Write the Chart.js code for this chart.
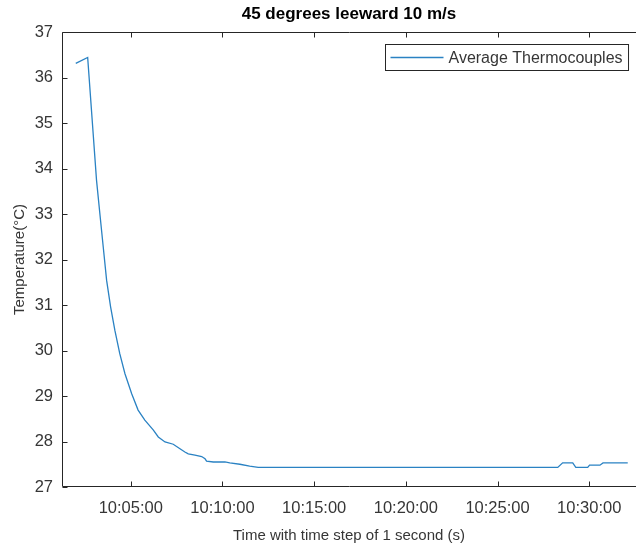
<!DOCTYPE html>
<html>
<head>
<meta charset="utf-8">
<script src="https://cdn.jsdelivr.net/npm/chart.js@4"></script>
<style>
  html, body { margin: 0; padding: 0; background: #fff; }
  #wrap { width: 636px; height: 545px; }
</style>
</head>
<body>
<div id="wrap"><canvas id="c" width="636" height="545"></canvas></div>
<script>
// ---- data ----
const chartTitle = '45 degrees leeward 10 m/s';
const seriesLabel = 'Average Thermocouples';
const xAxisTitle = 'Time with time step of 1 second (s)';
const yAxisTitle = 'Temperature(\u00B0C)';

const times = [
  '10:02:00','10:02:39','10:03:08','10:03:19','10:03:30','10:03:41','10:03:54',
  '10:04:08','10:04:24','10:04:41','10:05:03','10:05:24','10:05:46','10:06:14',
  '10:06:30','10:06:52','10:07:19','10:07:41','10:07:57','10:08:08','10:08:30',
  '10:08:52','10:09:03','10:09:08','10:09:30','10:10:08','10:10:24','10:10:57',
  '10:11:29','10:11:57','10:28:17','10:28:33','10:29:06','10:29:16','10:29:55',
  '10:30:01','10:30:35','10:30:45','10:32:06'
];
const temperatures = [
  36.31, 36.44, 33.74, 33.00, 32.27, 31.54, 30.96,
  30.44, 29.93, 29.49, 29.05, 28.69, 28.47, 28.25,
  28.10, 27.99, 27.94, 27.84, 27.77, 27.73, 27.70,
  27.67, 27.62, 27.57, 27.55, 27.55, 27.53, 27.50,
  27.46, 27.43, 27.43, 27.53, 27.53, 27.43, 27.43,
  27.48, 27.48, 27.53, 27.53
];
const xTickLabels = ['10:05:00','10:10:00','10:15:00','10:20:00','10:25:00','10:30:00'];
const xLimits = ['10:01:15','10:32:33'];
const yTickValues = [27, 28, 29, 30, 31, 32, 33, 34, 35, 36, 37];

// ---- helpers ----
function toSec(s) {
  const p = s.split(':').map(Number);
  return p[0] * 3600 + p[1] * 60 + p[2];
}
function fmt(v) {
  const h = Math.floor(v / 3600), m = Math.floor((v % 3600) / 60), s = Math.round(v % 60);
  const z = n => String(n).padStart(2, '0');
  return h + ':' + z(m) + ':' + z(s);
}

const AX = '#262626';
const TXT = '#363636';
const LINE = '#2a82c3';
const FONT = "'Liberation Sans', Arial, Helvetica, sans-serif";

const boxPlugin = {
  id: 'matlabBox',
  afterDraw(chart) {
    const ctx = chart.ctx;
    const a = chart.chartArea;
    const xs = chart.scales.x, ys = chart.scales.y;
    const L = Math.round(a.left) + 0.5, R = Math.round(a.right) + 0.5;
    const T = Math.round(a.top) + 0.5, B = Math.round(a.bottom) - 0.5;
    const tl = 5;
    ctx.save();
    ctx.strokeStyle = AX;
    ctx.lineWidth = 1;
    ctx.beginPath();
    ctx.moveTo(R, T); ctx.lineTo(L, T); ctx.lineTo(L, B); ctx.lineTo(R, B);
    // x ticks (bottom and top, inward)
    xs.ticks.forEach(t => {
      const px = Math.round(xs.getPixelForValue(t.value)) + 0.5;
      ctx.moveTo(px, B); ctx.lineTo(px, B - tl);
      ctx.moveTo(px, T); ctx.lineTo(px, T + tl);
    });
    // y ticks (left, inward)
    ys.ticks.forEach(t => {
      const py = Math.round(ys.getPixelForValue(t.value)) + 0.5;
      ctx.moveTo(L, py); ctx.lineTo(L + tl, py);
    });
    ctx.stroke();

    // legend box (upper right, inside axes)
    const ds = chart.data.datasets[0];
    ctx.font = '16px ' + FONT;
    const tw = ctx.measureText(ds.label).width;
    const padL = 5, lineLen = 53, gap = 5, padR = 6, h = 26;
    const w = padL + lineLen + gap + tw + padR;
    const bx = Math.round(a.right - 8 - w) + 0.5;
    const by = Math.round(a.top + 12) + 0.5;
    ctx.fillStyle = '#fff';
    ctx.fillRect(bx, by, w, h);
    ctx.strokeStyle = AX;
    ctx.strokeRect(bx, by, w, h);
    const cy = by + h / 2;
    ctx.strokeStyle = ds.borderColor;
    ctx.lineWidth = ds.borderWidth;
    ctx.beginPath();
    ctx.moveTo(bx + padL, cy); ctx.lineTo(bx + padL + lineLen, cy);
    ctx.stroke();
    ctx.fillStyle = TXT;
    ctx.textBaseline = 'middle';
    ctx.textAlign = 'left';
    ctx.fillText(ds.label, bx + padL + lineLen + gap, cy + 1);
    ctx.restore();
  }
};

new Chart(document.getElementById('c'), {
  type: 'line',
  data: {
    datasets: [{
      label: seriesLabel,
      data: times.map((t, i) => ({ x: toSec(t), y: temperatures[i] })),
      borderColor: LINE,
      backgroundColor: LINE,
      borderWidth: 1.3,
      pointRadius: 0,
      tension: 0,
      fill: false
    }]
  },
  options: {
    responsive: false,
    animation: false,
    devicePixelRatio: 1,
    layout: { padding: { left: 0, right: 0, top: 0, bottom: 0 } },
    plugins: {
      legend: { display: false },
      tooltip: { enabled: false },
      title: {
        display: true,
        text: chartTitle,
        fullSize: false,
        color: '#000',
        font: { family: FONT, size: 17, weight: 'bold' },
        padding: { top: 4, bottom: 7.6 }
      }
    },
    scales: {
      x: {
        type: 'linear',
        min: toSec(xLimits[0]),
        max: toSec(xLimits[1]),
        grid: { display: false, drawTicks: false },
        border: { display: false },
        afterBuildTicks: sc => { sc.ticks = xTickLabels.map(l => ({ value: toSec(l) })); },
        afterFit: sc => { sc.height = 58; },
        ticks: {
          autoSkip: false, maxRotation: 0, minRotation: 0,
          padding: 12,
          color: TXT,
          font: { family: FONT, size: 16.5 },
          callback: v => fmt(v)
        },
        title: {
          display: true, text: xAxisTitle, color: TXT,
          font: { family: FONT, size: 15 },
          padding: { top: 3, bottom: 0 }
        }
      },
      y: {
        type: 'linear',
        min: 27, max: 37,
        grid: { display: false, drawTicks: false },
        border: { display: false },
        afterBuildTicks: sc => { sc.ticks = yTickValues.map(v => ({ value: v })); },
        afterFit: sc => { sc.width = 62; },
        ticks: {
          padding: 9,
          color: TXT,
          font: { family: FONT, size: 16.5 }
        },
        title: {
          display: true, text: yAxisTitle, color: TXT,
          font: { family: FONT, size: 15 },
          padding: { top: 11, bottom: 0 }
        }
      }
    }
  },
  plugins: [boxPlugin]
});
</script>
</body>
</html>
